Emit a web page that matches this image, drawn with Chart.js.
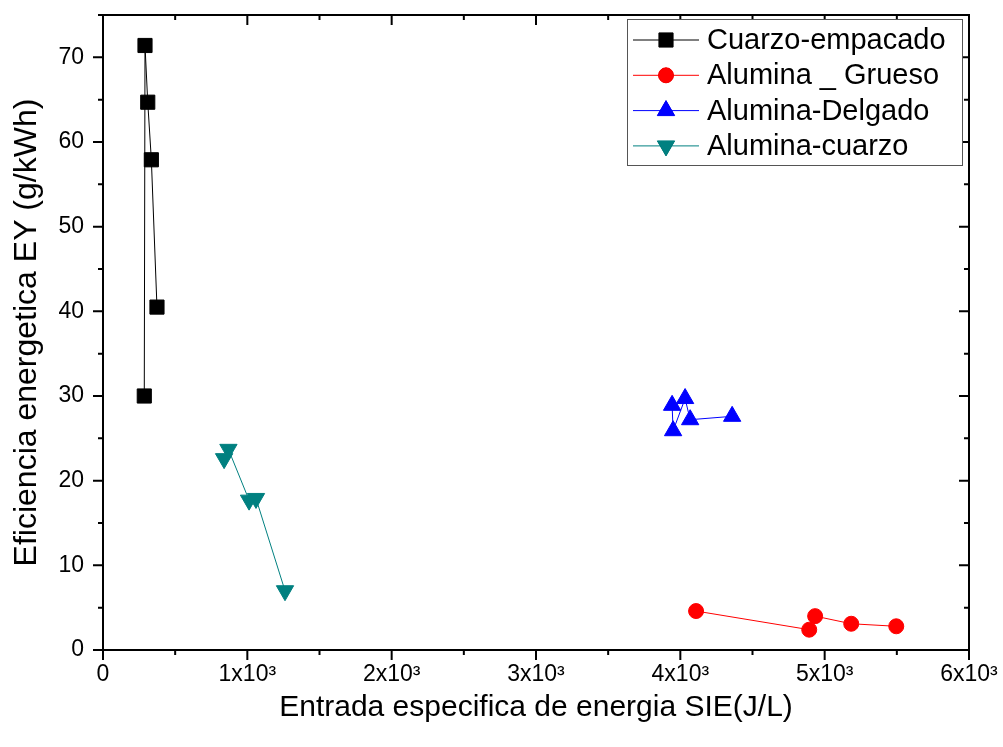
<!DOCTYPE html>
<html>
<head>
<meta charset="utf-8">
<script src="https://cdn.jsdelivr.net/npm/chart.js@4/dist/chart.umd.min.js"></script>
<style>
  html, body { margin: 0; padding: 0; background: #fff; }
  #wrap { width: 1003px; height: 747px; }
</style>
</head>
<body>
<div id="wrap"><canvas id="sieChart"></canvas></div>
<script>
// data
const seriesNames = ['Cuarzo-empacado', 'Alumina _ Grueso', 'Alumina-Delgado', 'Alumina-cuarzo'];

const cuarzoX = [286, 291, 310, 335, 374];
const cuarzoY = [30.0, 71.4, 64.7, 57.9, 40.5];

const gruesoX = [4109, 4893, 4934, 5184, 5496];
const gruesoY = [4.6, 2.4, 4.0, 3.1, 2.8];

const delgadoX = [3943, 3950, 4033, 4068, 4359];
const delgadoY = [28.9, 25.9, 29.7, 27.2, 27.6];

const alCuarzoX = [839, 869, 1012, 1060, 1261];
const alCuarzoY = [22.6, 23.7, 17.7, 17.9, 7.0];

const xTicks = [0, 1000, 2000, 3000, 4000, 5000, 6000];
const yTicks = [0, 10, 20, 30, 40, 50, 60, 70];

const pts = (xs, ys) => xs.map((x, i) => ({ x: x, y: ys[i] }));

const FONT = 'Arial, "Liberation Sans", sans-serif';

// frame, ticks (major + minor, outward bottom/left, inward top/right) and legend
const framePlugin = {
  id: 'frame',
  afterDraw(chart) {
    const ctx = chart.ctx;
    const a = chart.chartArea;
    const xs = chart.scales.x, ys = chart.scales.y;
    ctx.save();
    ctx.strokeStyle = '#000';
    ctx.lineWidth = 2;
    ctx.strokeRect(a.left, a.top, a.right - a.left, a.bottom - a.top);

    ctx.beginPath();
    for (let v = 0; v <= 6000; v += 500) {
      const px = xs.getPixelForValue(v);
      const len = v % 1000 === 0 ? 10 : 5;
      ctx.moveTo(px, a.bottom); ctx.lineTo(px, a.bottom + len);
      ctx.moveTo(px, a.top); ctx.lineTo(px, a.top + len);
    }
    for (let v = 0; v <= 75; v += 5) {
      const py = ys.getPixelForValue(v);
      const len = v % 10 === 0 ? 10 : 5;
      ctx.moveTo(a.left, py); ctx.lineTo(a.left - len, py);
      ctx.moveTo(a.right, py); ctx.lineTo(a.right - len, py);
    }
    ctx.stroke();

    // legend box
    const bx = 627, by = 19, bw = 335, bh = 146;
    ctx.lineWidth = 1;
    ctx.strokeStyle = '#555';
    ctx.fillStyle = '#fff';
    ctx.fillRect(bx, by, bw, bh);
    ctx.strokeRect(bx + 0.5, by + 0.5, bw, bh);
    chart.data.datasets.forEach((ds, i) => {
      const cy = 40 + i * 35.3;
      ctx.strokeStyle = ds.borderColor;
      ctx.lineWidth = 1;
      ctx.beginPath();
      ctx.moveTo(633, cy); ctx.lineTo(699, cy);
      ctx.stroke();
      Chart.helpers.drawPoint(ctx, {
        pointStyle: ds.pointStyle,
        rotation: ds.pointRotation || 0,
        radius: ds.pointRadius,
        borderWidth: 1
      }, 666, cy);
      ctx.fillStyle = ds.pointBackgroundColor;
      ctx.strokeStyle = ds.pointBackgroundColor;
      ctx.fill();
      ctx.fillStyle = '#000';
      ctx.font = '29px ' + FONT;
      ctx.textBaseline = 'middle';
      ctx.textAlign = 'left';
      ctx.fillText(ds.label, 707, cy + 1);
    });
    ctx.restore();
  }
};

function mkSet(label, data, color, style, radius, rot) {
  return {
    label: label,
    data: data,
    showLine: true,
    borderColor: color,
    borderWidth: 1,
    pointStyle: style,
    pointRotation: rot || 0,
    pointRadius: radius,
    pointHoverRadius: radius,
    pointBackgroundColor: color,
    pointBorderColor: color,
    pointBorderWidth: 1,
    tension: 0
  };
}

// keep the plot area where the reference has it
const noPad = s => { s.paddingTop = 0; s.paddingBottom = 0; s.paddingLeft = 0; s.paddingRight = 0; };

new Chart(document.getElementById('sieChart'), {
  type: 'scatter',
  data: {
    datasets: [
      mkSet(seriesNames[0], pts(cuarzoX, cuarzoY), '#000000', 'rect', 10),
      mkSet(seriesNames[1], pts(gruesoX, gruesoY), '#ff0000', 'circle', 7.5),
      mkSet(seriesNames[2], pts(delgadoX, delgadoY), '#0000ff', 'triangle', 10),
      mkSet(seriesNames[3], pts(alCuarzoX, alCuarzoY), '#008080', 'triangle', 10, 180)
    ]
  },
  options: {
    responsive: true,
    maintainAspectRatio: false,
    animation: false,
    layout: { padding: { top: 15, right: 34, left: 0, bottom: 0 } },
    plugins: {
      legend: { display: false },
      tooltip: { enabled: false }
    },
    scales: {
      x: {
        type: 'linear',
        min: 0,
        max: 6000,
        afterBuildTicks: s => { s.ticks = xTicks.map(v => ({ value: v })); },
        afterFit: s => { s.height = 97; noPad(s); },
        grid: { display: false },
        border: { display: false },
        ticks: {
          color: '#000',
          padding: 3,
          maxRotation: 0,
          font: { family: FONT, size: 23 },
          callback: v => v === 0 ? '0' : (v / 1000) + 'x10\u00B3'
        },
        title: {
          display: true,
          text: 'Entrada especifica de energia SIE(J/L)',
          color: '#000',
          font: { family: FONT, size: 30 },
          padding: { top: 0, bottom: 21 }
        }
      },
      y: {
        type: 'linear',
        min: 0,
        max: 75,
        afterBuildTicks: s => { s.ticks = yTicks.map(v => ({ value: v })); },
        afterFit: s => { s.width = 103; noPad(s); },
        grid: { display: false },
        border: { display: false },
        ticks: {
          color: '#000',
          padding: 11,
          font: { family: FONT, size: 23 }
        },
        title: {
          display: true,
          text: 'Eficiencia energetica EY (g/kWh)',
          color: '#000',
          font: { family: FONT, size: 32 },
          padding: { top: 8, bottom: 0 }
        }
      }
    }
  },
  plugins: [framePlugin]
});
</script>
</body>
</html>
